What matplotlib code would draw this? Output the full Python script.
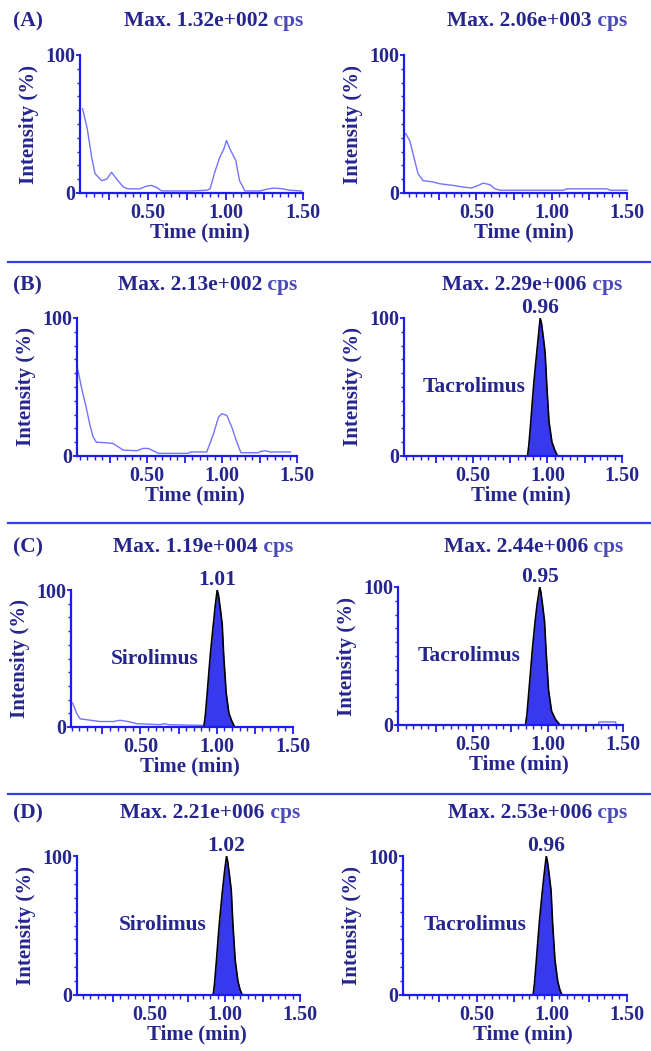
import matplotlib
matplotlib.use('Agg')
import matplotlib.pyplot as plt
from matplotlib.lines import Line2D
from matplotlib.ticker import MultipleLocator, FuncFormatter

plt.rcParams['font.family'] = 'Liberation Serif'
plt.rcParams['font.weight'] = 'bold'
plt.rcParams['axes.labelweight'] = 'bold'

W, H = 651, 1051
AXIS_BLUE = '#1c1cf0'
TEXT_NAVY = '#25258e'
CPS_BLUE = '#4a4ab8'
TRACE = '#7373ff'
FILL = '#3838ee'

# ---- chromatogram data: time (min), intensity (%)
a_left_t = [0.077, 0.107, 0.135, 0.157, 0.20, 0.232, 0.264, 0.297, 0.34, 0.37, 0.447, 0.49,
            0.523, 0.555, 0.587, 0.79, 0.877, 0.90, 0.93, 0.963, 0.989, 1.006, 1.028, 1.05,
            1.066, 1.09, 1.125, 1.22, 1.265, 1.31, 1.37, 1.415, 1.49]
a_left_i = [61, 46.5, 26, 14, 9, 10, 15, 10, 4.3, 3, 3, 5, 5.5, 4, 1.5, 1.5, 2, 3, 15, 26, 32,
            38, 32, 27, 23.6, 9, 1.5, 1.5, 2.7, 3.6, 3, 2, 1.5]

a_right_t = [0.031, 0.058, 0.091, 0.113, 0.146, 0.213, 0.257, 0.346, 0.413, 0.468, 0.513,
             0.546, 0.59, 0.624, 0.657, 1.078, 1.10, 1.367, 1.389, 1.5]
a_right_i = [43, 38, 23.6, 14, 9, 8, 6.7, 5.5, 4.3, 3.6, 5.5, 7.2, 6, 3, 2, 2, 3, 3, 2, 2]

b_left_t = [0.04, 0.062, 0.095, 0.118, 0.14, 0.162, 0.229, 0.274, 0.307, 0.341, 0.43, 0.474,
            0.508, 0.541, 0.575, 0.775, 0.787, 0.898, 0.943, 0.976, 0.998, 1.032, 1.065,
            1.099, 1.126, 1.244, 1.255, 1.288, 1.322, 1.456]
b_left_i = [62, 50, 35, 23, 14, 10, 9.6, 9, 6.7, 4.3, 3.8, 5.5, 5.5, 3.8, 1.9, 1.9, 2.9, 2.9,
            16, 28, 30.6, 29.4, 21, 10, 2.4, 2.4, 3.3, 3.8, 2.9, 2.9]

c_left_noise_t = [0.056, 0.082, 0.104, 0.148, 0.235, 0.322, 0.366, 0.42, 0.475, 0.627, 0.66,
                  0.682, 0.911]
c_left_noise_i = [17.5, 10, 6, 5.3, 4, 4, 4.9, 4, 2.4, 1.7, 2.4, 1.7, 1.2]

c_right_tail_t = [1.335, 1.34, 1.45, 1.455]
c_right_tail_i = [0, 2.2, 2.2, 0]

peak_i = [0, 8, 25, 42, 55, 75, 88, 100, 96, 86, 75, 52, 25, 10, 4, 0]
b_right_peak_t = [0.866, 0.875, 0.888, 0.90, 0.91, 0.928, 0.94, 0.951, 0.96, 0.972, 0.984,
                  0.995, 1.01, 1.03, 1.05, 1.068]
c_left_peak_t = [0.915, 0.925, 0.938, 0.95, 0.96, 0.978, 0.99, 1.003, 1.012, 1.024, 1.036,
                 1.046, 1.062, 1.08, 1.10, 1.118]
c_right_peak_t = [0.85, 0.86, 0.873, 0.886, 0.896, 0.914, 0.928, 0.945, 0.953, 0.965, 0.977,
                  0.988, 1.004, 1.024, 1.05, 1.08]
d_left_peak_t = [0.921, 0.93, 0.943, 0.955, 0.965, 0.983, 0.996, 1.01, 1.018, 1.03, 1.042,
                 1.052, 1.068, 1.086, 1.10, 1.115]
d_right_peak_t = [0.874, 0.883, 0.896, 0.908, 0.918, 0.936, 0.949, 0.962, 0.97, 0.982, 0.994,
                  1.004, 1.02, 1.038, 1.052, 1.067]

row_labels = ['(A)', '(B)', '(C)', '(D)']
row_title_y = [21, 285, 547, 813]
separator_y = [262, 523, 794]

# pixel boxes: x0, x1, y(100%), y(0%), x minimum
panels = [
    dict(box=(80, 303, 55, 193), xmin=0.06, title='Max. 1.32e+002',
         lines=[(a_left_t, a_left_i)]),
    dict(box=(404, 627, 55, 193), xmin=0.02, title='Max. 2.06e+003',
         lines=[(a_right_t, a_right_i)]),
    dict(box=(77, 297, 318, 456), xmin=0.033, title='Max. 2.13e+002',
         lines=[(b_left_t, b_left_i)]),
    dict(box=(404, 622, 318, 456), xmin=0.037, title='Max. 2.29e+006',
         peak=b_right_peak_t, apex='0.96', name='Tacrolimus', name_x=0.85),
    dict(box=(71, 293, 590, 727), xmin=0.045, title='Max. 1.19e+004',
         lines=[(c_left_noise_t, c_left_noise_i)],
         peak=c_left_peak_t, apex='1.01', name='Sirolimus', name_x=0.88),
    dict(box=(398, 623, 587, 725), xmin=0.0, title='Max. 2.44e+006',
         lines=[(c_right_tail_t, c_right_tail_i)],
         peak=c_right_peak_t, apex='0.95', name='Tacrolimus', name_x=0.815),
    dict(box=(77, 300, 856, 995), xmin=0.013, title='Max. 2.21e+006',
         peak=d_left_peak_t, apex='1.02', name='Sirolimus', name_x=0.88),
    dict(box=(403, 627, 856, 995), xmin=0.007, title='Max. 2.53e+006',
         peak=d_right_peak_t, apex='0.96', name='Tacrolimus', name_x=0.83),
]

fig = plt.figure(figsize=(W / 100, H / 100), dpi=100)


def x_fmt(v, pos):
    if abs(v * 2 - round(v * 2)) < 1e-6 and v > 0.01:
        return '%.2f' % v
    return ''


for k, p in enumerate(panels):
    x0, x1, ytop, ybot = p['box']
    ax = fig.add_axes([x0 / W, 1 - ybot / H, (x1 - x0) / W, (ybot - ytop) / H])
    ax.set_xlim(p['xmin'], 1.5)
    ax.set_ylim(0, 100)
    ax.patch.set_alpha(0)
    for s in ['top', 'right']:
        ax.spines[s].set_visible(False)
    for s in ['left', 'bottom']:
        ax.spines[s].set_color(AXIS_BLUE)
        ax.spines[s].set_linewidth(1.6)

    for t, i in p.get('lines', []):
        ax.plot(t, i, color=TRACE, lw=1.0, clip_on=False)
    if 'peak' in p:
        ax.fill_between(p['peak'], peak_i, 0, color=FILL, lw=0)
        ax.plot(p['peak'], peak_i, color='black', lw=1.2)
        apex_t = p['peak'][peak_i.index(100)]
        ax.text(apex_t, 100, p['apex'], ha='center', va='bottom', fontsize=15.5,
                color=TEXT_NAVY)
        ax.text(p['name_x'], 50, p['name'], ha='right', va='center', fontsize=15.5,
                color=TEXT_NAVY)

    ax.xaxis.set_major_locator(MultipleLocator(0.25))
    ax.xaxis.set_minor_locator(MultipleLocator(0.05))
    ax.xaxis.set_major_formatter(FuncFormatter(x_fmt))
    ax.set_yticks([0, 100])
    ax.yaxis.set_minor_locator(MultipleLocator(10))
    ax.tick_params(axis='x', which='major', length=5, width=1.3, color=AXIS_BLUE,
                   labelsize=14.5, labelcolor=TEXT_NAVY, pad=2)
    ax.tick_params(axis='x', which='minor', length=3, width=1.0, color=AXIS_BLUE)
    ax.tick_params(axis='y', which='major', length=3, width=1.3, color=AXIS_BLUE,
                   labelsize=14.5, labelcolor=TEXT_NAVY, pad=0.5)
    ax.tick_params(axis='y', which='minor', length=2.5, width=1.0, color=AXIS_BLUE)

    ax.set_xlabel('Time (min)', fontsize=15, color=TEXT_NAVY, labelpad=0)
    ax.xaxis.label.set_x(0.5 + 8 / (x1 - x0))
    ax.set_ylabel('Intensity (%)', fontsize=15, color=TEXT_NAVY)
    ax.yaxis.set_label_coords(-41 / (x1 - x0), 0.5)

    # title: "Max. ..." in navy, "cps" in lighter blue, right aligned to axis end
    ty = 1 - row_title_y[k // 2] / H
    cps = fig.text(x1 / W, ty, ' cps', ha='right', va='center', fontsize=15.5,
                   color=CPS_BLUE)
    ax.annotate(p['title'], xy=(0, 0.5), xycoords=cps, ha='right', va='center',
                fontsize=15.5, color=TEXT_NAVY, annotation_clip=False)

for lbl, y in zip(row_labels, row_title_y):
    fig.text(13 / W, 1 - y / H, lbl, ha='left', va='center', fontsize=15.5, color=TEXT_NAVY)

for y in separator_y:
    fig.add_artist(Line2D([8 / W, 1], [1 - y / H, 1 - y / H], transform=fig.transFigure,
                          color='#3040e0', lw=1.6))

fig.savefig('out.png', dpi=100)
